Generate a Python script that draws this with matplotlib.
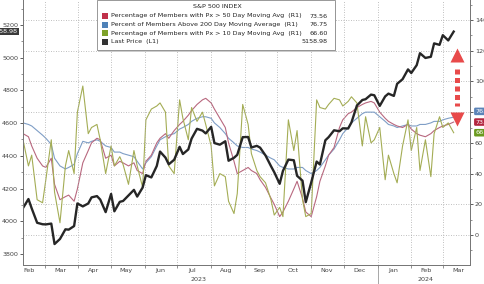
import matplotlib
matplotlib.use("Agg")
import matplotlib.pyplot as plt
import matplotlib.dates as mdates
import matplotlib.transforms as mtransforms
from matplotlib.patches import Rectangle
import pandas as pd

# S&P 500 last price and breadth, sampled every 3 business days from 2023-02-09
start_date = "2023-02-09"

price = [4081, 4136, 4079, 3991, 3982, 3981, 3986, 3861, 3892, 3951,
         3949, 3971, 4109, 4091, 4109, 4146, 4154, 4133, 4056, 4167,
         4061, 4119, 4124, 4158, 4192, 4151, 4206, 4282, 4268, 4338,
         4426, 4389, 4348, 4376, 4455, 4411, 4439, 4505, 4565, 4554,
         4537, 4577, 4478, 4468, 4489, 4370, 4388, 4406, 4514, 4515,
         4451, 4461, 4450, 4402, 4337, 4300, 4229, 4308, 4377, 4373,
         4278, 4248, 4117, 4237, 4365, 4347, 4495, 4514, 4556, 4550,
         4568, 4567, 4604, 4707, 4741, 4746, 4774, 4770, 4705, 4763,
         4780, 4766, 4840, 4868, 4928, 4906, 4954, 5027, 4998, 5005,
         5087, 5078, 5137, 5105, 5158.98]

pct_50d = [66, 64, 58, 50, 45, 44, 50, 33, 23, 25,
           26, 22, 30, 47, 55, 60, 63, 62, 50, 52,
           45, 48, 47, 45, 47, 42, 40, 48, 52, 60,
           63, 66, 63, 68, 72, 74, 78, 81, 85, 88,
           89, 86, 82, 76, 70, 60, 48, 40, 42, 44,
           42, 40, 36, 31, 24, 20, 12, 15, 22, 30,
           35, 24, 15, 12, 25, 35, 45, 52, 57, 70,
           75, 79, 80, 83, 85, 86, 87, 86, 80, 76,
           74, 72, 71, 70, 72, 69, 66, 65, 64, 66,
           68, 70, 71, 72, 73.56]

pct_200d = [73, 72, 71, 68, 65, 63, 59, 50, 45, 43,
            44, 46, 53, 61, 60, 61, 62, 61, 58, 57,
            54, 54, 53, 52, 51, 48, 43, 47, 51, 58,
            62, 64, 65, 66, 69, 70, 72, 74, 76, 77,
            77, 76, 73, 70, 66, 63, 60, 58, 57, 57,
            56, 55, 54, 52, 50, 49, 45, 44, 43, 43,
            44, 44, 42, 40, 42, 44, 49, 52, 56, 62,
            66, 70, 73, 76, 79, 80, 80, 80, 77, 74,
            72, 71, 70, 71, 72, 71, 71, 72, 72, 73,
            74, 74, 75, 76, 76.75]

pct_10d = [62, 45, 52, 23, 21, 36, 62, 28, 8, 45,
           55, 40, 80, 97, 66, 70, 72, 62, 40, 58,
           45, 51, 46, 33, 55, 45, 31, 75, 82, 84,
           86, 80, 45, 40, 88, 76, 62, 83, 74, 80,
           72, 58, 32, 40, 38, 22, 14, 27, 85, 72,
           53, 42, 38, 34, 23, 13, 18, 12, 75, 55,
           68, 23, 12, 14, 88, 83, 82, 85, 89, 88,
           84, 87, 90, 86, 58, 77, 60, 62, 70, 36,
           52, 40, 34, 58, 75, 55, 70, 42, 62, 38,
           66, 77, 70, 73, 66.60]

legend_labels = [
    "Percentage of Members with Px > 50 Day Moving Avg  (R1)",
    "Percent of Members Above 200 Day Moving Average  (R1)",
    "Percentage of Members with Px > 10 Day Moving Avg  (R1)",
    "Last Price  (L1)",
]
legend_values = ["73.56", "76.75", "66.60", "5158.98"]

C_RED = "#b8687f"
C_BLUE = "#7f9ec6"
C_GREEN = "#a4ad55"
C_BLACK = "#262626"
FS = 4.6
W, H = 485, 284


def fxy(px, py):
    return px / W, 1 - py / H


dates = pd.date_range(start_date, periods=len(price), freq="3B")

fig = plt.figure(figsize=(4.85, 2.84), dpi=100)
ax = fig.add_axes([23 / W, 19 / H, 447 / W, 265 / H])
ax2 = ax.twinx()
ax.set_zorder(ax2.get_zorder() + 1)
ax.patch.set_visible(False)

ax2.plot(dates, pct_200d, color=C_BLUE, lw=0.8)
ax2.plot(dates, pct_50d, color=C_RED, lw=0.8)
ax2.plot(dates, pct_10d, color=C_GREEN, lw=0.8)
ax.plot(dates, price, color=C_BLACK, lw=1.7)

ax.set_xlim(pd.Timestamp("2023-02-09"), pd.Timestamp("2024-03-26"))
ax.set_ylim(3733, 5352)
ax2.set_ylim(-19.5, 153)

# ticks
ax.set_yticks(range(3800, 5201, 200))
ax.set_yticks(range(3800, 5301, 100), minor=True)
ax2.set_yticks(range(0, 141, 20))
ax2.set_yticks(range(-10, 151, 10), minor=True)
for a in (ax, ax2):
    a.tick_params(axis="y", which="major", labelsize=FS, length=2.5, width=0.6,
                  pad=1, colors="#444444")
    a.tick_params(axis="y", which="minor", length=1.5, width=0.5, colors="#666666")
    for s in a.spines.values():
        s.set_color("#777777")
        s.set_linewidth(0.7)
    a.spines["top"].set_visible(False)

ax.xaxis.set_major_locator(mdates.MonthLocator())
ax.xaxis.set_major_formatter(plt.NullFormatter())
ax.xaxis.set_minor_locator(mdates.MonthLocator(bymonthday=15))
ax.xaxis.set_minor_formatter(mdates.DateFormatter("%b"))
ax.tick_params(axis="x", which="major", length=2, width=0.5, colors="#666666")
ax.tick_params(axis="x", which="minor", length=0, labelsize=FS, pad=2,
               labelcolor="#444444")

# grid: months vertical, right axis horizontal
ax.grid(True, axis="x", which="major", ls=(0, (1, 2)), color="#aaaaaa", lw=0.6)
ax2.grid(True, axis="y", which="major", ls=(0, (1, 2)), color="#aaaaaa", lw=0.6)

# year labels
trans = mtransforms.blended_transform_factory(ax.transData, fig.transFigure)
ax.text(pd.Timestamp("2023-07-20"), 2 / H, "2023", transform=trans,
        ha="center", va="bottom", fontsize=FS, color="#444444")
ax.text(pd.Timestamp("2024-02-14"), 2 / H, "2024", transform=trans,
        ha="center", va="bottom", fontsize=FS, color="#444444")
ax.plot([pd.Timestamp("2024-01-01")] * 2, [0, 16 / H], transform=trans,
        color="#999999", lw=0.6, clip_on=False)

# last value tags
tl = mtransforms.blended_transform_factory(ax.transAxes, ax.transData)
ax.text(-0.012, price[-1], "5158.98", transform=tl, ha="right", va="center",
        fontsize=FS, color="white",
        bbox=dict(boxstyle="square,pad=0.2", fc="#3a3a3a", ec="none"))
tr = mtransforms.blended_transform_factory(ax2.transAxes, ax2.transData)
for yv, txt, col in [(80.5, "76.75", "#5c84b8"), (73.56, "73.56", "#b3263f"),
                     (66.6, "66.60", "#6a9a1f")]:
    ax2.text(1.012, yv, txt, transform=tr, ha="left", va="center",
             fontsize=FS, color="white", clip_on=False,
             bbox=dict(boxstyle="round,pad=0.2", fc=col, ec="none"))

# red dashed double arrow
xa = pd.Timestamp("2024-03-14")
ax2.plot([xa, xa], [108, 84], color="#e84a4a", lw=3.6, ls=(0, (1.0, 0.7)),
         solid_capstyle="butt")
ax2.plot([xa], [117.5], marker="^", ms=10.5, color="#e84a4a", mec="none")
ax2.plot([xa], [75.5], marker="v", ms=10.5, color="#e84a4a", mec="none")

# legend box
x0, y0 = fxy(97, 50)
x1, y1 = fxy(335, 0)
fig.patches.append(Rectangle((x0 + 1.5 / W, y0 - 1.5 / H), x1 - x0, y1 - y0,
                             transform=fig.transFigure, fc="#cccccc", ec="none",
                             zorder=5))
fig.patches.append(Rectangle((x0, y0), x1 - x0, y1 - y0, transform=fig.transFigure,
                             fc="white", ec="#888888", lw=0.6, zorder=6))
tx, ty = fxy(217, 6.5)
fig.text(tx, ty, "S&P 500 INDEX", ha="center", va="center", fontsize=FS,
         color="#222222", zorder=7)
for i, (lab, val, col) in enumerate(zip(legend_labels, legend_values,
                                        ["#c0304a", "#4f82b8", "#7ea22a", "#333333"])):
    py = 16 + 8.6 * i
    sx, sy = fxy(102, py + 3)
    fig.patches.append(Rectangle((sx, sy), 6 / W, 6 / H, transform=fig.transFigure,
                                 fc=col, ec="none", zorder=7))
    lx, ly = fxy(111, py)
    fig.text(lx, ly, lab, ha="left", va="center", fontsize=FS, color="#222222",
             zorder=7)
    vx, vy = fxy(328, py)
    fig.text(vx, vy, val, ha="right", va="center", fontsize=FS, color="#222222",
             zorder=7)

fig.savefig("out.png", dpi=100)
